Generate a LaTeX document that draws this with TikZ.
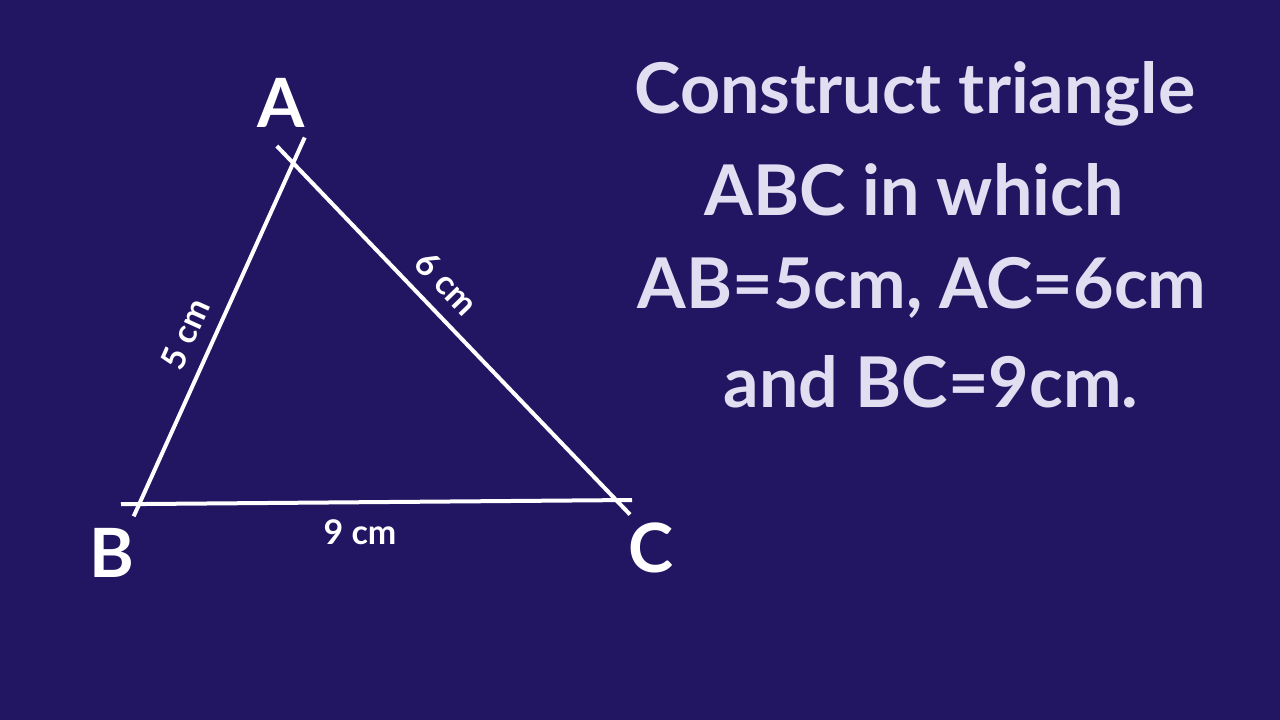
\documentclass[tikz,border=0pt]{standalone}
\usepackage{fontspec}
\setmainfont{Lato}
\definecolor{bg}{RGB}{34,22,98}
\definecolor{chalk}{RGB}{226,222,242}
\begin{document}
\begin{tikzpicture}[x=1pt,y=-1pt,
  edge/.style={draw=white,line width=4pt},
  vlabel/.style={text=white,font=\fontsize{68}{68}\selectfont\bfseries,inner sep=0pt},
  len/.style={text=white,font=\fontsize{34}{34}\selectfont\bfseries,inner sep=0pt},
  title/.style={text=chalk,font=\fontsize{70}{70}\selectfont\bfseries,inner sep=0pt}]
\fill[bg] (0,0) rectangle (1280,720);
\useasboundingbox (0,0) rectangle (1280,720);
% vertices and extension ends
\coordinate (A) at (293,165);
\coordinate (B) at (140,504);
\coordinate (C) at (617,501);
\coordinate (ABa) at (304.7,137.5);
\coordinate (ABb) at (133.7,516.3);
\coordinate (ACa) at (276.8,146);
\coordinate (ACc) at (630,514.5);
\coordinate (BCb) at (121,504.2);
\coordinate (BCc) at (632,500);
\draw[edge] (ABa) -- (ABb);
\draw[edge] (ACa) -- (ACc);
\draw[edge] (BCb) -- (BCc);
% vertex labels
\node[vlabel] (lA) at (281,103) {A};
\node[vlabel] (lB) at (112,553) {B};
\node[vlabel] (lC) at (651,548) {C};
% side lengths
\node[len,rotate=65.7] (l5) at (185,334) {5 cm};
\node[len,rotate=-46] (l6) at (447,283) {6 cm};
\node[len] (l9) at (360,532) {9 cm};
% statement
\node[title] (t1) at (915,94) {Construct triangle};
\node[title] (t2) at (914,190) {ABC in which};
\node[title] (t3) at (922,288) {AB=5cm, AC=6cm};
\node[title] (t4) at (931,382) {and BC=9cm.};
\end{tikzpicture}
\end{document}
